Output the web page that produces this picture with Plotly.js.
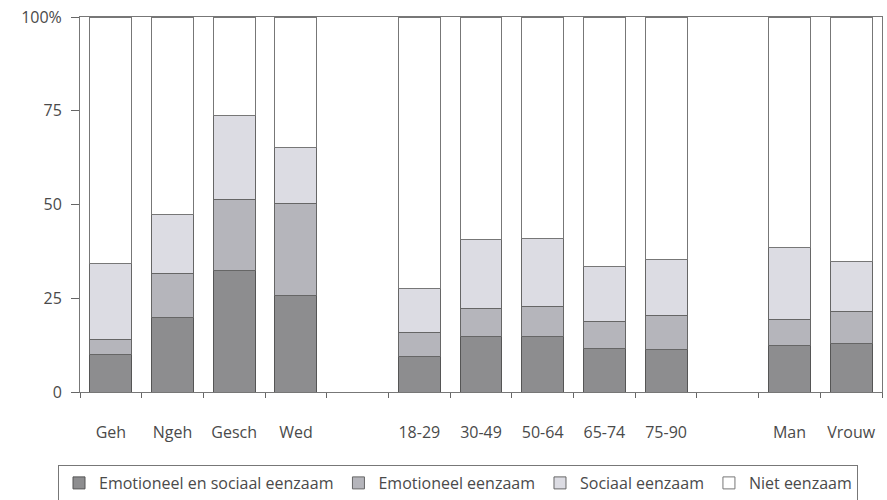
<!DOCTYPE html>
<html>
<head>
<meta charset="utf-8">
<script src="https://cdn.plot.ly/plotly-3.0.1.min.js"></script>
<style>html,body{margin:0;padding:0;background:#fff;}#chart{width:887px;height:500px;}</style>
</head>
<body>
<div id="chart"></div>
<script>
var categories = ["Geh", "Ngeh", "Gesch", "Wed", " ", "18-29", "30-49", "50-64", "65-74", "75-90", "  ", "Man", "Vrouw"];
var emotioneelEnSociaal = [10, 20, 32.4, 25.8, null, 9.4, 14.8, 14.8, 11.6, 11.4, null, 12.4, 12.9];
var emotioneel = [4, 11.5, 19, 24.4, null, 6.6, 7.5, 8.1, 7.1, 9, null, 7, 8.6];
var sociaal = [20.2, 15.8, 22.4, 14.9, null, 11.6, 18.4, 18.1, 14.8, 14.9, null, 19.1, 13.4];
var niet = emotioneelEnSociaal.map(function (v, i) {
  return v === null ? null : +(100 - v - emotioneel[i] - sociaal[i]).toFixed(1);
});
var seriesNames = ["Emotioneel en sociaal eenzaam", "Emotioneel eenzaam", "Sociaal eenzaam", "Niet eenzaam"];
var yTickVals = [0, 25, 50, 75, 100];
var yTickText = ["0", "25", "50", "75", "100%"];

var fills = ["#8d8d8f", "#b5b5bb", "#dcdce3", "#ffffff"];
var lines = ["#555555", "#666666", "#666666", "#777777"];
var data = [emotioneelEnSociaal, emotioneel, sociaal, niet].map(function (vals, k) {
  return {
    type: "bar",
    x: categories,
    y: vals,
    name: seriesNames[k],
    width: 0.68,
    marker: {color: fills[k], line: {color: lines[k], width: 1}},
    hoverinfo: "x+y+name"
  };
});

var txt = {family: "Open Sans, sans-serif", size: 16, color: "#4a4a4a"};
var layout = {
  width: 887, height: 500,
  margin: {l: 80, r: 5, t: 17, b: 108},
  barmode: "stack",
  paper_bgcolor: "#fff", plot_bgcolor: "#fff",
  font: txt,
  showlegend: true,
  legend: {
    orientation: "h", xref: "container", yref: "container",
    x: 0.0654, xanchor: "left", y: 0.07, yanchor: "top",
    bordercolor: "#777", borderwidth: 1, bgcolor: "#fff",
    font: txt,
    traceorder: "normal", itemwidth: 30, tracegroupgap: 0
  },
  xaxis: {
    type: "category", categoryorder: "array", categoryarray: categories,
    tickson: "boundaries", ticks: "outside", ticklen: 5, tickcolor: "#666",
    ticklabelstandoff: 26,
    showline: true, linecolor: "#777", linewidth: 1, mirror: true,
    showgrid: false, zeroline: false, fixedrange: true,
    tickfont: txt
  },
  yaxis: {
    range: [0, 100], tickvals: yTickVals, ticktext: yTickText,
    ticks: "outside", ticklen: 8, tickcolor: "#666",
    ticklabelstandoff: 6,
    showline: true, linecolor: "#777", linewidth: 1, mirror: true,
    showgrid: false, zeroline: false, fixedrange: true,
    tickfont: txt
  }
};
Plotly.newPlot("chart", data, layout, {displayModeBar: false, staticPlot: true});
</script>
</body>
</html>
